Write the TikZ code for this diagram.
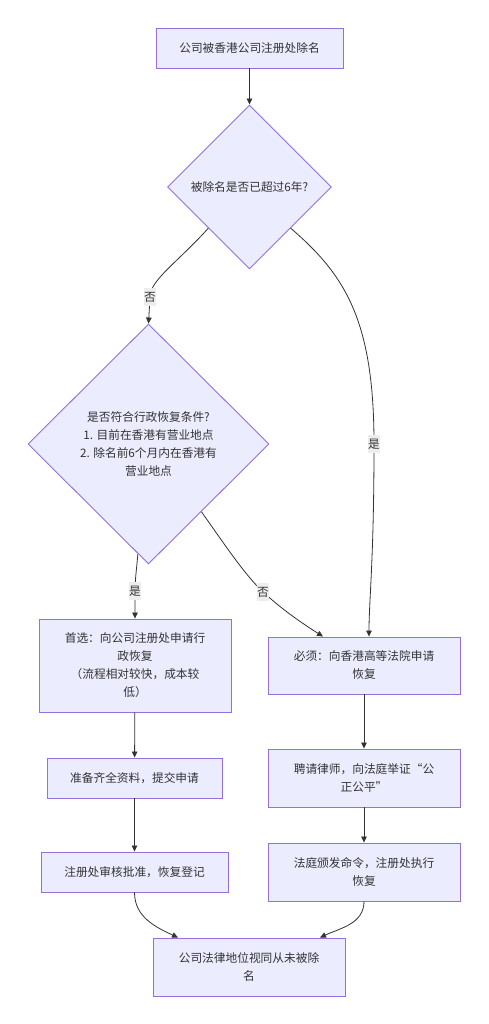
\documentclass[tikz,border=0pt]{standalone}
\usepackage{fontspec}
\setmainfont{Noto Sans CJK SC}
\usetikzlibrary{shapes.geometric,arrows.meta,calc}
\definecolor{nodefill}{HTML}{ECECFF}
\definecolor{nodeline}{HTML}{9370DB}
\definecolor{edgecol}{HTML}{333333}
\definecolor{txtcol}{HTML}{333333}
\definecolor{lblbg}{HTML}{EDEDED}
\tikzset{
  base/.style={draw=nodeline, fill=nodefill, line width=0.9pt, text=txtcol,
    font=\fontsize{11.7}{18}\selectfont, align=center, inner sep=0pt},
  box/.style={base, rectangle},
  decide/.style={base, diamond, aspect=1},
  edge/.style={draw=edgecol, line width=0.8pt, -{Triangle[length=6pt,width=5.5pt]}},
  lbl/.style={fill=lblbg, text=txtcol, font=\fontsize{11.7}{18}\selectfont,
    inner sep=0pt, minimum width=12pt, minimum height=18pt}
}
\begin{document}
\begin{tikzpicture}[x=1pt,y=1pt]
\useasboundingbox (0,0) rectangle (488,-1024);
\fill[white] (0,0) rectangle (488,-1024);

\node[box, minimum width=187pt, minimum height=40pt] (top) at (249.5,-48) {公司被香港公司注册处除名};
\node[decide, minimum width=164pt, minimum height=164pt] (d1) at (249.5,-187) {被除名是否已超过6年?};
\node[decide, minimum width=241pt, minimum height=240pt] (d2) at (148.5,-444)
  {是否符合行政恢复条件?\\1. 目前在香港有营业地点\\2. 除名前6个月内在香港有\\营业地点};
\node[box, minimum width=192pt, minimum height=93pt] (b1) at (135,-665.5)
  {首选：向公司注册处申请行\\政恢复\\（流程相对较快，成本较\\低）};
\node[box, minimum width=192pt, minimum height=57pt] (b2) at (364,-665.5)
  {必须：向香港高等法院申请\\恢复};
\node[box, minimum width=175pt, minimum height=40pt] (b3) at (134.5,-778)
  {准备齐全资料，提交申请};
\node[box, minimum width=192pt, minimum height=58pt] (b4) at (364,-778)
  {聘请律师，向法庭举证“公\\正公平”};
\node[box, minimum width=187pt, minimum height=40pt] (b5) at (134.5,-872)
  {注册处审核批准，恢复登记};
\node[box, minimum width=192pt, minimum height=58pt] (b6) at (364,-872)
  {法庭颁发命令，注册处执行\\恢复};
\node[box, minimum width=192pt, minimum height=58pt] (fin) at (249,-967)
  {公司法律地位视同从未被除\\名};

\draw[edge] (top) -- (d1);
\draw[edge] (d1.south west) .. controls (178,-262) and (150,-280) .. (150,-297)
  node[lbl] {否} -- (d2.north);
\draw[edge] (d1.south east) .. controls (345,-275) and (374,-320) .. (374,-444)
  node[lbl] {是} .. controls (374,-560) and (369,-600) .. ([xshift=5pt]b2.north);
\draw[edge] ($(d2.south)!0.088!(d2.west)$) .. controls (136.5,-570) and (135,-580) .. (135,-591)
  node[lbl] {是} -- (b1.north);
\draw[edge] ($(d2.south)!0.4375!(d2.east)$) .. controls (225,-545) and (245,-575) .. (263,-592)
  node[lbl] {否} .. controls (285,-612) and (305,-625) .. ([xshift=-41pt]b2.north);
\draw[edge] (b1) -- (b3);
\draw[edge] (b3) -- (b5);
\draw[edge] (b2) -- (b4);
\draw[edge] (b4) -- (b6);
\draw[edge] (b5.south) to[out=-90,in=155] ([xshift=-71pt]fin.north);
\draw[edge] (b6.south) to[out=-90,in=25] ([xshift=71pt]fin.north);
\end{tikzpicture}
\end{document}
